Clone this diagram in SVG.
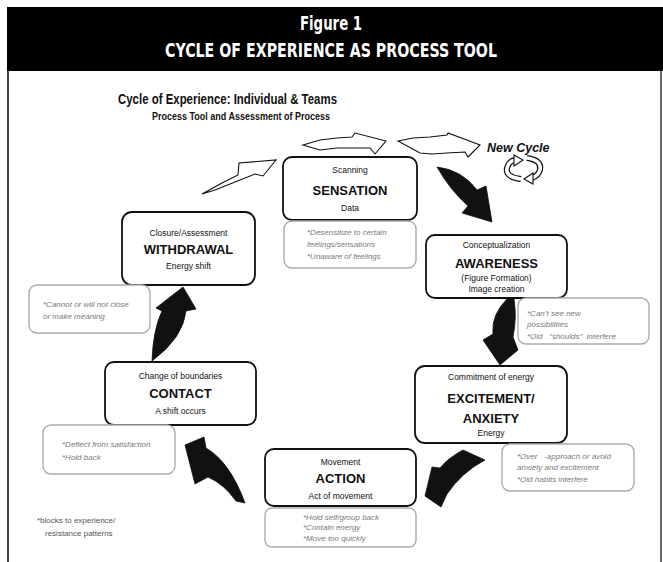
<svg xmlns="http://www.w3.org/2000/svg" width="663" height="562" viewBox="0 0 663 562">
<style>
.hd{font-family:"DejaVu Sans Condensed","DejaVu Sans",sans-serif;font-weight:bold;font-size:20px;fill:#fff;text-anchor:middle}
.tt{font-family:"Liberation Sans",Arial,sans-serif;font-weight:bold;fill:#111}
.box{fill:#fff;stroke:#111;stroke-width:1.8}
.gbox{fill:#fff;stroke:#a8adb3;stroke-width:1.4}
.sm{font-family:"Liberation Sans",Arial,sans-serif;font-size:8.5px;fill:#111;text-anchor:middle}
.big{font-family:"Liberation Sans",Arial,sans-serif;font-size:13px;font-weight:bold;fill:#111;text-anchor:middle}
.it{font-family:"Liberation Sans",Arial,sans-serif;font-size:8px;font-style:italic;fill:#7a7a7a}
.fn{font-family:"Liberation Sans",Arial,sans-serif;font-size:8px;fill:#555}
.ha{fill:#fff;stroke:#111;stroke-width:1.1;stroke-linejoin:miter}
.ba{fill:#111;stroke:#111;stroke-width:0.8}
</style>
<rect x="0" y="0" width="663" height="562" fill="#fff"/>
<rect x="7" y="7" width="656" height="64" fill="#000"/>
<text class="hd" x="331" y="30" textLength="62" lengthAdjust="spacingAndGlyphs">Figure 1</text>
<text class="hd" x="331" y="57" textLength="332" lengthAdjust="spacingAndGlyphs">CYCLE OF EXPERIENCE AS PROCESS TOOL</text>
<line x1="8" y1="70" x2="8" y2="562" stroke="#000" stroke-width="1.5"/>
<line x1="661" y1="70" x2="661" y2="562" stroke="#000" stroke-width="1.2"/>
<text class="tt" x="118" y="104" font-size="15" textLength="219" lengthAdjust="spacingAndGlyphs">Cycle of Experience:  Individual &amp; Teams</text>
<text class="tt" x="152" y="120" font-size="11" textLength="178" lengthAdjust="spacingAndGlyphs">Process Tool and Assessment of Process</text>

<g id="connectors">
<path class="ha" d="M202,194 L222,183 L238,175 L239,163 L276,160 L263,176 L255,174 L235,182 L215,190 Z"/>
<path class="ha" d="M303,145 L320,140 L337,138 L352,137 L355,133 L386,141 L375,154 L370,148 L353,148 L337,148 L320,150 Z"/>
<path class="ha" d="M398,141 L413,138 L430,137 L447,135 L448,133 L480,145 L468,157 L465,152 L447,153 L432,154 L420,153 Z"/>
<path class="ba" d="M437,167 Q462,170 477,190 L486,186 L492,222 L462,213 L468,206 Q450,190 437,167 Z"/>
<path class="ba" d="M507,299 L514,299 Q517,318 513,337 L518,350 L500,365 L483,340 L493,334 Q491,315 507,299 Z"/>
<path class="ba" d="M463,450 Q448,458 440,468 L432,467 L425,496 L441,507 L447,494 Q462,472 485,460 Z"/>
<path class="ba" d="M185,445 L204,437 L206,448 Q230,462 245,503 L236,501 Q224,484 208,477 L195,484 Z"/>
<path class="ba" d="M183,287 L196,309 L186,311 Q183,338 152,361 Q153,330 162,311 L156,308 Z"/>
</g>

<g id="new-cycle">
<text class="tt" x="487" y="152" font-size="12.5" font-style="italic">New Cycle</text>
<path d="M521,179 Q505,177 507,168 Q509,161 515,160" fill="none" stroke="#111" stroke-width="6"/>
<path d="M521,179 Q505,177 507,168 Q509,161 515,160" fill="none" stroke="#fff" stroke-width="3.6"/>
<path class="ha" d="M514,155 L523,160 L514,166 Z"/>
<path d="M527,158 Q542,160 540,170 Q538,176 532,178" fill="none" stroke="#111" stroke-width="6"/>
<path d="M527,158 Q542,160 540,170 Q538,176 532,178" fill="none" stroke="#fff" stroke-width="3.6"/>
<path class="ha" d="M533,173 L524,179 L533,184 Z"/>
</g>

<g id="sensation">
<rect class="box" x="283" y="157" width="134" height="63" rx="9"/>
<text class="sm" x="350" y="173">Scanning</text>
<text class="big" x="350" y="195">SENSATION</text>
<text class="sm" x="350" y="211">Data</text>
</g>
<g id="sensation-blocks">
<rect class="gbox" x="284" y="221" width="132" height="47" rx="8"/>
<text class="it" x="307" y="235">*Desensitize to certain</text>
<text class="it" x="307" y="247">feelings/sensations</text>
<text class="it" x="307" y="259">*Unaware of feelings</text>
</g>

<g id="awareness">
<rect class="box" x="426" y="235" width="141" height="63" rx="9"/>
<text class="sm" x="496.5" y="248">Conceptualization</text>
<text class="big" x="496.5" y="268">AWARENESS</text>
<text class="sm" x="496.5" y="281">(Figure Formation)</text>
<text class="sm" x="496.5" y="292">Image creation</text>
</g>
<g id="awareness-blocks">
<rect class="gbox" x="518" y="298" width="131" height="46" rx="8"/>
<text class="it" x="527" y="316">*Can’t see new</text>
<text class="it" x="527" y="327">possibilities</text>
<text class="it" x="527" y="339" xml:space="preserve">*Old   “shoulds”  interfere</text>
</g>

<g id="excitement">
<rect class="box" x="415" y="366" width="152" height="77" rx="10"/>
<text class="sm" x="491" y="380">Commitment of energy</text>
<text class="big" x="491" y="403">EXCITEMENT/</text>
<text class="big" x="491" y="423">ANXIETY</text>
<text class="sm" x="491" y="436">Energy</text>
</g>
<g id="excitement-blocks">
<rect class="gbox" x="502" y="444" width="132" height="47" rx="8"/>
<text class="it" x="517" y="459" xml:space="preserve">*Over   -approach or avoid</text>
<text class="it" x="517" y="470">anxiety and excitement</text>
<text class="it" x="517" y="482">*Old habits interfere</text>
</g>

<g id="action">
<rect class="box" x="265" y="449" width="151" height="57" rx="9"/>
<text class="sm" x="340.5" y="465">Movement</text>
<text class="big" x="340.5" y="483">ACTION</text>
<text class="sm" x="340.5" y="499">Act of movement</text>
</g>
<g id="action-blocks">
<rect class="gbox" x="265" y="508" width="151" height="39" rx="7"/>
<text class="it" x="303" y="520">*Hold self/group back</text>
<text class="it" x="303" y="530">*Contain energy</text>
<text class="it" x="303" y="541">*Move too quickly</text>
</g>

<g id="contact">
<rect class="box" x="105" y="362" width="151" height="63" rx="9"/>
<text class="sm" x="180.5" y="379">Change of boundaries</text>
<text class="big" x="180.5" y="398">CONTACT</text>
<text class="sm" x="180.5" y="414">A shift occurs</text>
</g>
<g id="contact-blocks">
<rect class="gbox" x="43" y="425" width="132" height="49" rx="8"/>
<text class="it" x="62" y="447">*Deflect from satisfaction</text>
<text class="it" x="62" y="460">*Hold back</text>
</g>

<g id="withdrawal">
<rect class="box" x="122" y="212" width="133" height="73" rx="10"/>
<text class="sm" x="188.5" y="236">Closure/Assessment</text>
<text class="big" x="188.5" y="254">WITHDRAWAL</text>
<text class="sm" x="188.5" y="269">Energy shift</text>
</g>
<g id="withdrawal-blocks">
<rect class="gbox" x="29" y="285" width="121" height="48" rx="8"/>
<text class="it" x="43" y="307">*Cannot or will not close</text>
<text class="it" x="43" y="319">or make meaning</text>
</g>

<g id="footnote">
<text class="fn" x="37" y="523">*blocks to experience/</text>
<text class="fn" x="45" y="536">resistance patterns</text>
</g>
</svg>
